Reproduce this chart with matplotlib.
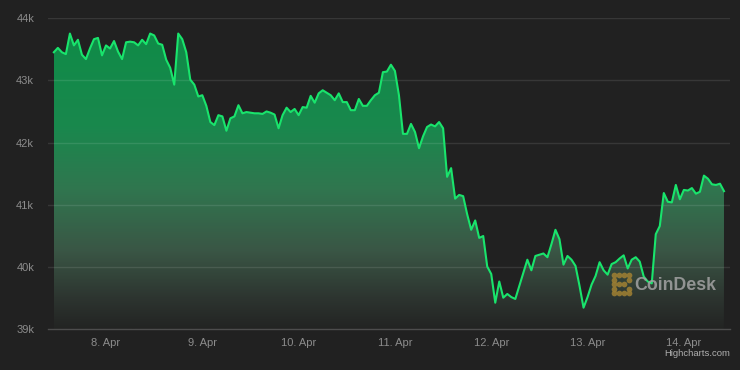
import numpy as np
import matplotlib.pyplot as plt
from matplotlib.colors import LinearSegmentedColormap

plt.rcParams['font.family'] = ['Liberation Sans', 'DejaVu Sans']

# Hourly BTC price (USD), first sample ~7 Apr 11:00.
# Hours are counted from 8 Apr 00:00.
start_hour = -13
prices = [
    43450, 43520, 43450, 43420, 43750, 43560, 43650, 43410, 43340, 43510,
    43660, 43680, 43400, 43560, 43510, 43630, 43460, 43340, 43610, 43620,
    43610, 43560, 43650, 43580, 43750, 43720, 43590, 43570, 43330, 43200,
    42930, 43750, 43660, 43450, 43010, 42930, 42740, 42760, 42590, 42330,
    42280, 42440, 42420, 42190, 42390, 42420, 42600, 42470, 42490, 42480,
    42470, 42470, 42460, 42500, 42480, 42450, 42230, 42440, 42560, 42490,
    42540, 42440, 42570, 42560, 42750, 42640, 42790, 42840, 42800, 42760,
    42680, 42790, 42650, 42650, 42520, 42520, 42700, 42590, 42590, 42680,
    42760, 42800, 43130, 43140, 43250, 43150, 42760, 42140, 42140, 42300,
    42170, 41910, 42100, 42250, 42290, 42260, 42330, 42230, 41450, 41590,
    41100, 41160, 41140, 40850, 40600, 40750, 40470, 40500, 40010, 39890,
    39430, 39770, 39510, 39570, 39520, 39490, 39700, 39910, 40120, 39950,
    40180, 40200, 40220, 40160, 40370, 40600, 40450, 40040, 40180, 40120,
    40020, 39700, 39350, 39520, 39720, 39860, 40080, 39950, 39880, 40050,
    40080, 40140, 40190, 39980, 40120, 40160, 40090, 39850, 39770, 39740,
    40530, 40660, 41190, 41050, 41040, 41320, 41090, 41240, 41230, 41270,
    41180, 41210, 41470, 41420, 41330, 41320, 41340, 41220,
]
day_ticks = [0, 24, 48, 72, 96, 120, 144]
day_labels = ['8. Apr', '9. Apr', '10. Apr', '11. Apr', '12. Apr', '13. Apr', '14. Apr']
price_ticks = [39000, 40000, 41000, 42000, 43000, 44000]
price_labels = ['39k', '40k', '41k', '42k', '43k', '44k']

hours = np.arange(start_hour, start_hour + len(prices))

bg = '#212121'
fig = plt.figure(figsize=(7.4, 3.7), dpi=100, facecolor=bg)
ax = fig.add_axes([0.0649, 0.1095, 0.9216, 0.8419], facecolor=bg)

y_lo, y_hi = 39000, 44000
x_lo, x_hi = -14.45, 155.5

# Area under the line with a vertical green-to-dark gradient
area = ax.fill_between(hours, prices, y_lo, color='none', lw=0)
grad_cmap = LinearSegmentedColormap.from_list('area', [
    (0.0, '#0e8c47'), (0.35, '#19884d'), (0.55, '#30764f'),
    (0.75, '#3a5645'), (0.9, '#2d3530'), (1.0, '#232423')])
grad = np.linspace(0, 1, 256).reshape(-1, 1)
img = ax.imshow(grad, cmap=grad_cmap, aspect='auto', origin='upper',
                extent=[hours[0], hours[-1], y_lo, y_hi], zorder=1)
img.set_clip_path(area.get_paths()[0], transform=ax.transData)

ax.plot(hours, prices, color='#19e46c', lw=1.5, zorder=3)

# Grid lines
for p in price_ticks[1:]:
    ax.axhline(p, color='white', alpha=0.1, lw=1, zorder=2)

ax.set_xlim(x_lo, x_hi)
ax.set_ylim(y_lo, y_hi)
for s in ['top', 'right', 'left']:
    ax.spines[s].set_visible(False)
ax.spines['bottom'].set_color('#4d4d4d')
ax.spines['bottom'].set_linewidth(1)

ax.set_xticks(day_ticks)
ax.set_xticklabels(day_labels)
ax.set_yticks(price_ticks)
ax.set_yticklabels(price_labels)
ax.tick_params(axis='both', length=0, colors='#8c8c8c', labelsize=8)
ax.tick_params(axis='x', pad=6)
ax.tick_params(axis='y', pad=10)

# CoinDesk watermark: dotted bracket logo + wordmark (overlay in pixel coords)
over = fig.add_axes([0, 0, 1, 1], facecolor='none')
over.set_xlim(0, 740)
over.set_ylim(370, 0)
over.axis('off')
logo_x = [614, 619, 624, 629, 614, 614, 619, 624, 614, 614, 619, 624, 629, 629, 629]
logo_y = [275, 275, 275, 275, 280, 284, 284, 284, 289, 293, 293, 293, 293, 280, 289]
over.scatter(logo_x, logo_y, s=17, color='#9a7d33', alpha=0.9, lw=0)
over.text(634, 285, 'CoinDesk', color='#a3a3a3', alpha=0.85,
          fontsize=12.8, fontweight='bold', ha='left', va='center')
over.text(730, 354, 'Highcharts.com', color='#b0b0b0',
          fontsize=6.8, ha='right', va='center')

fig.savefig('out.png', dpi=100, facecolor=bg)
